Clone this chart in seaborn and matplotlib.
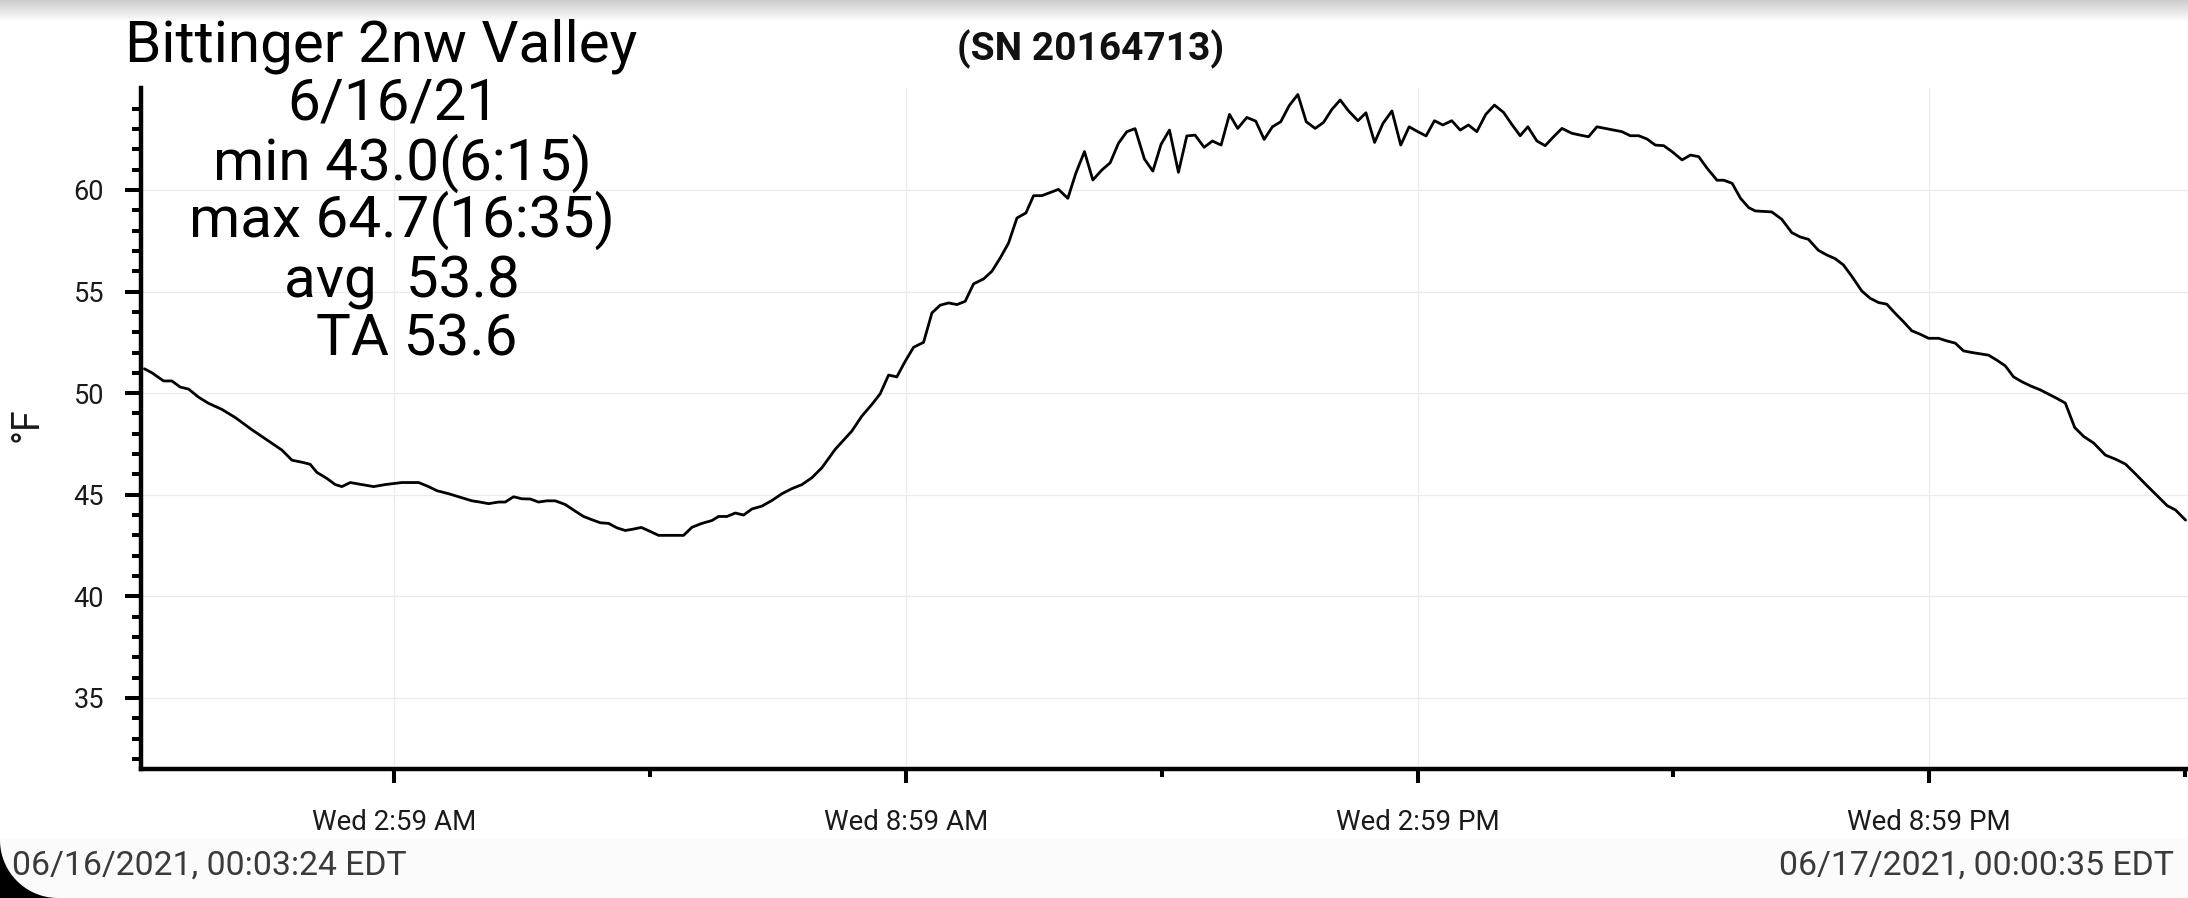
import numpy as np
import pandas as pd
import matplotlib
matplotlib.use("Agg")
import matplotlib.pyplot as plt
import seaborn as sns
from matplotlib.ticker import FixedLocator, NullFormatter
from matplotlib.patches import Polygon, Rectangle

# ---------------- data (minutes after midnight, °F) ----------------
minutes = [
    3.4, 8.7, 16.9, 22.7, 28.6, 34.5, 41.5, 48.5, 57.9, 67.3, 79.0, 89.6, 100.1, 107.2,
    114.2, 120.0, 124.7, 131.8, 137.6, 142.3, 148.2, 156.4, 164.6, 172.8, 184.5, 196.3,
    203.3, 209.1, 217.4, 224.4, 233.8,
    238.5, 245.5, 252.5, 257.2, 263.1, 268.9, 274.8, 280.7, 286.5, 292.4, 299.4, 306.5,
    312.3, 318.2, 324.1, 329.9, 335.8, 341.7, 347.5, 352.9, 359.3, 365.1, 372.2, 382.7,
    388.6, 395.6, 402.6, 407.3, 413.2, 419.1, 424.9, 430.8, 437.8, 444.9, 451.9, 458.9,
    466.0, 473.0, 480.0,
    489.3, 501.0, 508.1, 515.1, 521.0, 526.9, 532.7, 538.6, 544.5, 551.5, 557.4, 563.2,
    569.1, 575.0, 580.8, 586.7, 593.7, 599.6, 605.5, 611.3, 617.2, 623.5, 628.9, 634.8,
    646.4, 653.0, 658.6, 664.7, 670.6, 676.9, 682.8, 688.6, 694.5, 700.3, 706.9, 712.8,
    718.6, 724.5, 730.8, 736.7, 742.5, 748.9, 754.7, 760.8, 766.7, 772.5, 778.9, 785.2,
    791.1, 796.9, 802.8, 808.7, 814.8, 820.7, 827.0, 832.9, 838.8, 844.6, 850.5, 857.1,
    862.7, 868.8, 874.7, 881.0,
    887.2, 893.1, 899.2, 905.0, 910.9, 916.8, 923.1, 929.0, 934.8, 940.7, 947.0, 953.1,
    959.5, 965.3, 971.2, 976.6, 983.0, 988.8, 994.7, 1000.6, 1007.6, 1013.5, 1019.3,
    1025.2, 1031.1, 1042.8, 1048.7, 1054.6, 1060.4, 1066.3, 1072.2, 1078.0, 1085.1,
    1091.0, 1096.8, 1102.7, 1109.7, 1114.4, 1120.3, 1126.2, 1132.0,
    1136.5, 1148.2, 1155.2, 1162.3, 1168.1, 1174.0, 1181.0, 1186.9, 1192.8, 1198.6,
    1204.5, 1211.5, 1217.4, 1223.3, 1229.1, 1235.0, 1240.9, 1246.7, 1252.6, 1258.5,
    1265.5, 1271.4, 1277.3, 1283.1, 1289.0, 1300.7, 1306.6, 1312.5, 1318.3, 1324.2,
    1330.1, 1337.1, 1343.0, 1348.8, 1354.7, 1361.3, 1367.6, 1374.7, 1382.9, 1390.0,
    1397.0, 1404.1, 1411.1, 1419.3, 1426.4, 1432.2, 1439.3,
]
temps_f = [
    51.2, 51.0, 50.6, 50.6, 50.3, 50.2, 49.8, 49.5, 49.2, 48.8, 48.2, 47.7, 47.2, 46.7,
    46.6, 46.5, 46.1, 45.8, 45.5, 45.4, 45.6, 45.5, 45.4, 45.5, 45.6, 45.6,
    45.4, 45.2, 45.05, 44.9, 44.7,
    44.65, 44.56, 44.64, 44.64, 44.9, 44.8, 44.79, 44.64, 44.7, 44.7, 44.52, 44.19,
    43.93, 43.77, 43.62, 43.59, 43.37, 43.24, 43.31, 43.39, 43.19, 43.0, 43.0, 43.0,
    43.4, 43.59, 43.73, 43.93, 43.93, 44.1, 44.0, 44.3, 44.44, 44.72, 45.05, 45.3,
    45.5, 45.84, 46.33,
    47.23, 48.13, 48.87, 49.44, 49.97, 50.89, 50.8, 51.57, 52.26, 52.5, 53.95, 54.33,
    54.44, 54.36, 54.52, 55.38, 55.62, 56.0, 56.66, 57.39, 58.62, 58.87, 59.72, 59.72,
    60.03, 59.59, 60.82, 61.89, 60.49, 60.98, 61.34, 62.3, 62.87, 63.02, 61.52, 60.93,
    62.25, 62.95, 60.87, 62.66, 62.7, 62.1, 62.41, 62.21, 63.72, 63.03, 63.57, 63.39,
    62.49, 63.11, 63.36, 64.15, 64.7, 63.36, 63.03, 63.33, 63.97, 64.43, 63.89, 63.41,
    63.8, 62.34, 63.28, 63.89,
    62.21, 63.11, 62.87, 62.66, 63.41, 63.2, 63.41, 62.95, 63.2, 62.87, 63.72, 64.18,
    63.82, 63.23, 62.67, 63.11, 62.41, 62.18, 62.62, 63.03, 62.79, 62.7, 62.62,
    63.11, 63.03, 62.87, 62.67, 62.67, 62.51, 62.21, 62.18, 61.89, 61.48,
    61.72, 61.64, 61.07, 60.48, 60.48, 60.33, 59.59, 59.13,
    58.97, 58.92, 58.56, 57.9, 57.69, 57.57, 57.03, 56.8, 56.62, 56.31,
    55.75, 55.03, 54.67, 54.46, 54.38, 53.93, 53.51, 53.07, 52.9, 52.7,
    52.7, 52.57, 52.46, 52.08, 52.0, 51.87, 51.62, 51.34, 50.8, 50.56,
    50.36, 50.16, 49.95, 49.74, 49.51, 48.31, 47.87, 47.54, 46.95, 46.75,
    46.51, 46.02, 45.52, 44.95, 44.46, 44.25, 43.75,
]

x_major_ticks = [179, 539, 899, 1259]
x_major_labels = ["Wed 2:59 AM", "Wed 8:59 AM", "Wed 2:59 PM", "Wed 8:59 PM"]
x_minor_ticks = [359, 719, 1079, 1439]
y_major_ticks = [35, 40, 45, 50, 55, 60]
y_minor_ticks = [32, 33, 34, 36, 37, 38, 39, 41, 42, 43, 44, 46, 47, 48, 49,
                 51, 52, 53, 54, 56, 57, 58, 59, 61, 62, 63, 64]

title_lines = ["Bittinger 2nw Valley", "6/16/21", "min 43.0(6:15)",
               "max 64.7(16:35)", "avg  53.8", "TA 53.6"]
serial_text = "(SN 20164713)"
y_label = "°F"
start_label = "06/16/2021, 00:03:24 EDT"
end_label = "06/17/2021, 00:00:35 EDT"

# ---------------- style ----------------
sns.set_theme(style="whitegrid")
plt.rcParams['font.family'] = ['Roboto', 'DejaVu Sans']

W, H = 2188, 898
fig = plt.figure(figsize=(W / 100, H / 100), dpi=100)
fig.patch.set_facecolor("white")

def fx(px):
    return px / W

def fy(py_from_top):
    return 1 - py_from_top / H

# footer band
fig.patches.append(Rectangle((0, 0), 1, fy(838), transform=fig.transFigure,
                             facecolor="#fbfbfb", edgecolor="none", zorder=0))
# top shadow gradient
gax = fig.add_axes([0, fy(22), 1, 22 / H], zorder=0)
grad = np.linspace(0.80, 1.0, 64).reshape(-1, 1)
gax.imshow(grad, aspect="auto", cmap="gray", vmin=0, vmax=1, extent=[0, 1, 1, 0])
gax.set_axis_off()

ax = fig.add_axes([fx(141), fy(769), fx(W - 141), (769 - 88.4) / H], zorder=2)
ax.patch.set_alpha(0)

df = pd.DataFrame({"minutes": minutes, "temp": temps_f})
sns.lineplot(data=df, x="minutes", y="temp", ax=ax, color="black", linewidth=2.0)

ax.set_xlim(1, 1441)
ax.set_ylim(31.5, 65)

ax.xaxis.set_major_locator(FixedLocator(x_major_ticks))
ax.set_xticklabels(x_major_labels)
ax.xaxis.set_minor_locator(FixedLocator(x_minor_ticks))
ax.xaxis.set_minor_formatter(NullFormatter())
ax.yaxis.set_major_locator(FixedLocator(y_major_ticks))
ax.yaxis.set_minor_locator(FixedLocator(y_minor_ticks))
ax.yaxis.set_minor_formatter(NullFormatter())

ax.grid(True, which="major", color="#ebebeb", linewidth=0.9)
ax.grid(False, which="minor")

for side in ["top", "right"]:
    ax.spines[side].set_visible(False)
for side in ["left", "bottom"]:
    ax.spines[side].set_visible(True)
    ax.spines[side].set_color("black")
    ax.spines[side].set_linewidth(3.2)

ax.tick_params(axis="both", which="both", bottom=True, left=True, color="black",
               direction="out")
ax.tick_params(axis="y", which="major", length=11.5, width=2.9, pad=15,
               labelsize=19.5, labelcolor="#1a1a1a")
ax.tick_params(axis="y", which="minor", length=6.5, width=2.9)
ax.tick_params(axis="x", which="major", length=10, width=2.9, pad=19,
               labelsize=20, labelcolor="#1a1a1a")
ax.tick_params(axis="x", which="minor", length=5.5, width=2.9)

ax.set_xlabel("")
ax.set_ylabel("")
fig.text(fx(27), fy(425), y_label, rotation=90, ha="center", va="center",
         fontsize=27, color="#1a1a1a", zorder=5)

# title block
centers = [381, 393, 402, 402, 402, 417]
baselines = [62, 121, 180, 237, 297, 356]
for s, cx, by in zip(title_lines, centers, baselines):
    fig.text(fx(cx), fy(by), s, ha="center", va="baseline", fontsize=42,
             color="black", zorder=5)

fig.text(fx(1091), fy(60), serial_text, ha="center", va="baseline", fontsize=28,
         fontweight="bold", color="#111111", zorder=5)

# footer labels
fig.text(fx(12), fy(875), start_label, ha="left", va="baseline", fontsize=24.3,
         color="#3a3a3a", zorder=5)
fig.text(fx(2174), fy(875), end_label, ha="right", va="baseline", fontsize=24.3,
         color="#3a3a3a", zorder=5)

# rounded screen corner (bottom-left)
R = 58
theta = np.linspace(np.pi, 1.5 * np.pi, 40)
arc_x = R + R * np.cos(theta)
arc_y = (H - R) - R * np.sin(theta)
pts = [(0, H - R)] + list(zip(arc_x, arc_y)) + [(R, H), (0, H)]
pts_fig = [(fx(px), fy(py)) for px, py in pts]
fig.patches.append(Polygon(pts_fig, closed=True, transform=fig.transFigure,
                           facecolor="black", edgecolor="none", zorder=10))

fig.savefig("out.png", dpi=100)
